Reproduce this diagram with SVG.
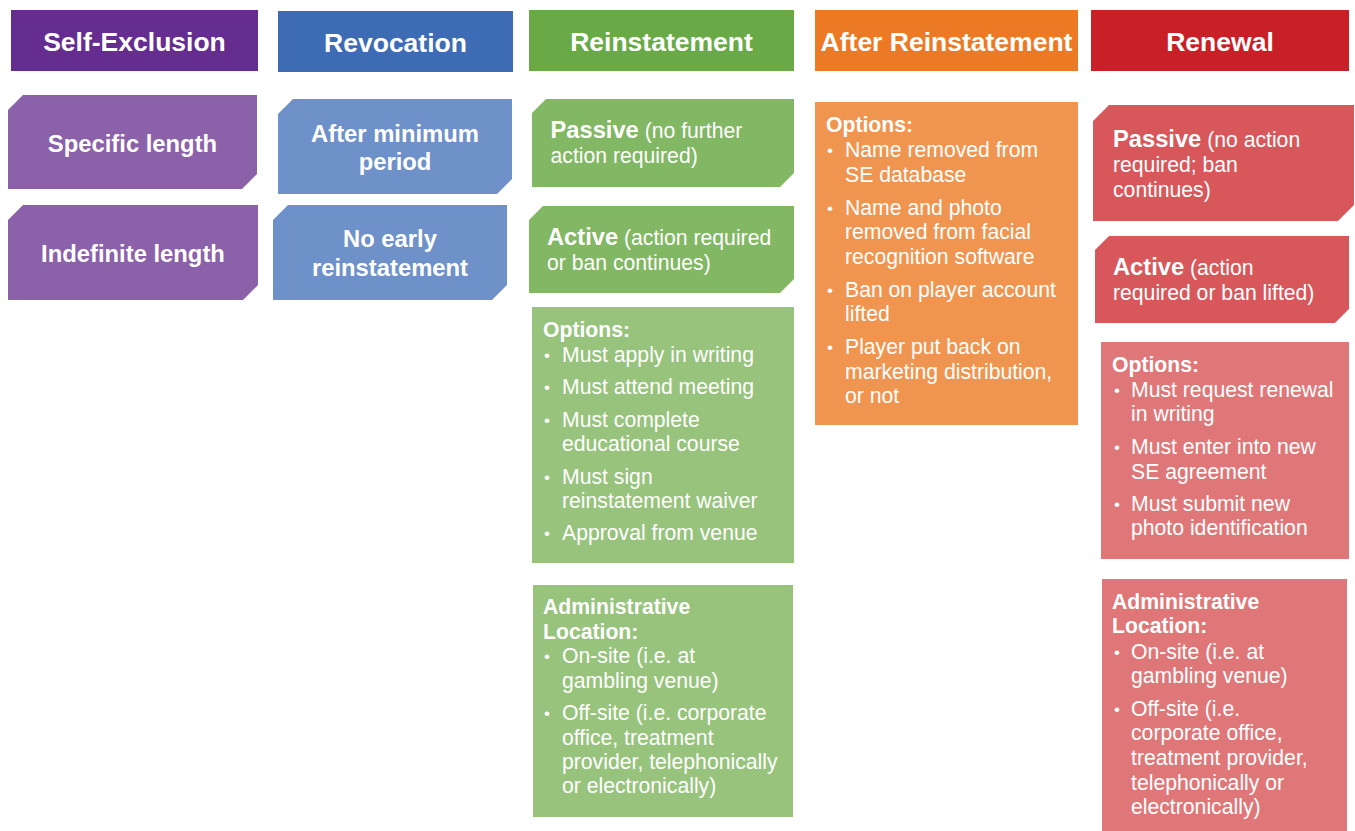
<svg xmlns="http://www.w3.org/2000/svg" width="1355" height="831" viewBox="0 0 1355 831">
<style>
text{fill:#fff;font-family:"Liberation Sans",Arial,sans-serif}
.h{font-size:26.5px;font-weight:bold;text-anchor:middle}
.c{font-size:23.8px;font-weight:bold;text-anchor:middle}
.b{font-size:23.7px;font-weight:bold}
.t{font-size:21.2px}
.tb{font-size:21.2px;font-weight:bold}
.r{font-weight:normal;font-size:21.2px}
.d{font-size:17px}
.p1{fill:#662D91}.p2{fill:#8B61AA}
.b1{fill:#3D6CB5}.b2{fill:#6D91C8}
.g1{fill:#69AA46}.g2{fill:#82B764}.g3{fill:#97C37D}
.o1{fill:#EC7A24}.o2{fill:#F0954F}
.r1{fill:#C91F26}.r2{fill:#D7575B}.r3{fill:#DF7778}
</style>
<rect width="1355" height="831" fill="#fff"/>
<g id="hdr-self-exclusion"><rect class="p1" x="11" y="10" width="247" height="61"/><text class="h" x="134.5" y="51">Self-Exclusion</text></g>
<g id="hdr-revocation"><rect class="b1" x="278" y="11" width="235" height="61"/><text class="h" x="395.5" y="52">Revocation</text></g>
<g id="hdr-reinstatement"><rect class="g1" x="529" y="10" width="265" height="61"/><text class="h" x="661.5" y="51">Reinstatement</text></g>
<g id="hdr-after"><rect class="o1" x="815" y="10" width="263" height="61"/><text class="h" x="946.5" y="51">After Reinstatement</text></g>
<g id="hdr-renewal"><rect class="r1" x="1091" y="10" width="258" height="61"/><text class="h" x="1220" y="51">Renewal</text></g>

<g id="se-specific"><path class="p2" d="M23,95 H257 V174 L242,189 H8 V110 Z"/><text class="c" x="132.5" y="151.5">Specific length</text></g>
<g id="se-indefinite"><path class="p2" d="M23,205 H258 V285 L243,300 H8 V220 Z"/><text class="c" x="133" y="261.5">Indefinite length</text></g>

<g id="rev-min"><path class="b2" d="M293,99 H512 V179 L497,194 H278 V114 Z"/><text class="c" x="395" y="141.5">After minimum</text><text class="c" x="395" y="170">period</text></g>
<g id="rev-noearly"><path class="b2" d="M288,205 H507 V285 L492,300 H273 V220 Z"/><text class="c" x="390" y="246.5">No early</text><text class="c" x="390" y="275.5">reinstatement</text></g>

<g id="rein-passive"><path class="g2" d="M546,99 H794 V173 L780,187 H532 V113 Z"/><text class="b" x="550.5" y="138">Passive<tspan class="r"> (no further</tspan></text><text class="t" x="550.5" y="163">action required)</text></g>
<g id="rein-active"><path class="g2" d="M543,206 H794 V279 L780,293 H529 V220 Z"/><text class="b" x="547" y="245">Active<tspan class="r"> (action required</tspan></text><text class="t" x="547" y="269.5">or ban continues)</text></g>
<g id="rein-options"><rect class="g3" x="532" y="307" width="262" height="256"/>
<text class="tb" x="543" y="336.5">Options:</text>
<g class="t">
<text class="d" x="544" y="361">•</text><text x="562" y="362">Must apply in writing</text>
<text class="d" x="544" y="393">•</text><text x="562" y="394">Must attend meeting</text>
<text class="d" x="544" y="426">•</text><text x="562" y="427">Must complete</text><text x="562" y="451">educational course</text>
<text class="d" x="544" y="483">•</text><text x="562" y="484">Must sign</text><text x="562" y="508">reinstatement waiver</text>
<text class="d" x="544" y="539">•</text><text x="562" y="540">Approval from venue</text>
</g></g>
<g id="rein-admin"><rect class="g3" x="533" y="585" width="260" height="232"/>
<text class="tb" x="543" y="614">Administrative</text><text class="tb" x="543" y="638.5">Location:</text>
<g class="t">
<text class="d" x="544" y="662">•</text><text x="562" y="663">On-site (i.e. at</text><text x="562" y="687.5">gambling venue)</text>
<text class="d" x="544" y="719">•</text><text x="562" y="720">Off-site (i.e. corporate</text><text x="562" y="744.5">office, treatment</text><text x="562" y="769">provider, telephonically</text><text x="562" y="793">or electronically)</text>
</g></g>

<g id="after-options"><rect class="o2" x="815" y="102" width="263" height="323"/>
<text class="tb" x="826" y="132">Options:</text>
<g class="t">
<text class="d" x="827" y="156">•</text><text x="845" y="157">Name removed from</text><text x="845" y="181.5">SE database</text>
<text class="d" x="827" y="213.5">•</text><text x="845" y="214.5">Name and photo</text><text x="845" y="239">removed from facial</text><text x="845" y="263.5">recognition software</text>
<text class="d" x="827" y="295.5">•</text><text x="845" y="296.5">Ban on player account</text><text x="845" y="321">lifted</text>
<text class="d" x="827" y="353">•</text><text x="845" y="354">Player put back on</text><text x="845" y="378.5">marketing distribution,</text><text x="845" y="403">or not</text>
</g></g>

<g id="ren-passive"><path class="r2" d="M1109,105 H1354 V205 L1338,221 H1093 V121 Z"/><text class="b" x="1113" y="146.5">Passive<tspan class="r"> (no action</tspan></text><text class="t" x="1113" y="171.5">required; ban</text><text class="t" x="1113" y="196.5">continues)</text></g>
<g id="ren-active"><path class="r2" d="M1109,236 H1349 V309 L1335,323 H1095 V250 Z"/><text class="b" x="1113" y="275">Active<tspan class="r"> (action</tspan></text><text class="t" x="1113" y="300">required or ban lifted)</text></g>
<g id="ren-options"><rect class="r3" x="1101" y="342" width="248" height="217"/>
<text class="tb" x="1112" y="371.5">Options:</text>
<g class="t">
<text class="d" x="1114" y="396">•</text><text x="1131" y="397">Must request renewal</text><text x="1131" y="421">in writing</text>
<text class="d" x="1114" y="453">•</text><text x="1131" y="454">Must enter into new</text><text x="1131" y="478.5">SE agreement</text>
<text class="d" x="1114" y="510">•</text><text x="1131" y="511">Must submit new</text><text x="1131" y="535">photo identification</text>
</g></g>
<g id="ren-admin"><rect class="r3" x="1102" y="579" width="245" height="252"/>
<text class="tb" x="1112" y="608.5">Administrative</text><text class="tb" x="1112" y="633">Location:</text>
<g class="t">
<text class="d" x="1114" y="657.5">•</text><text x="1131" y="658.5">On-site (i.e. at</text><text x="1131" y="683">gambling venue)</text>
<text class="d" x="1114" y="715">•</text><text x="1131" y="716">Off-site (i.e.</text><text x="1131" y="740">corporate office,</text><text x="1131" y="765">treatment provider,</text><text x="1131" y="789.5">telephonically or</text><text x="1131" y="813.5">electronically)</text>
</g></g>
<g id="connectors"/>
</svg>
